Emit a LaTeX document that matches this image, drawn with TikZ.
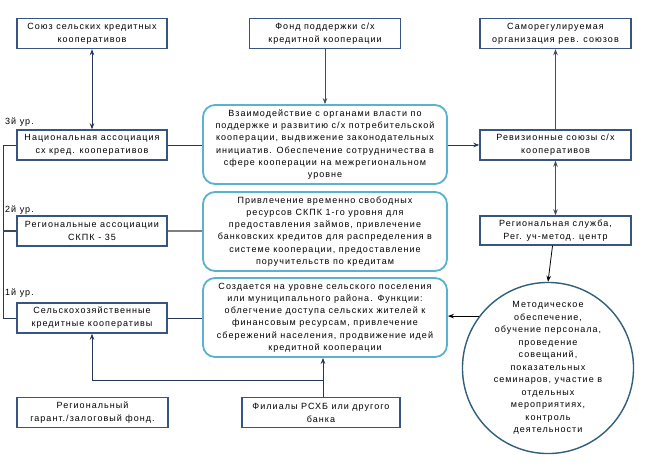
\documentclass[tikz,border=0pt]{standalone}
\usepackage{fontspec}
\setmainfont{Liberation Sans}[LetterSpace=11.5]
\usetikzlibrary{arrows.meta}
\definecolor{boxline}{RGB}{55,85,130}
\definecolor{rline}{RGB}{90,178,206}
\definecolor{cline}{RGB}{47,95,122}
\definecolor{conn}{RGB}{40,55,85}
\begin{document}
\begin{tikzpicture}[x=1pt,y=-1pt,
  sbox/.style={draw=boxline,line width=1.4pt,minimum width=150pt,minimum height=30pt,inner sep=1pt,align=center,font=\fontsize{9}{13}\selectfont},
  rbox/.style={draw=rline,line width=1.8pt,rounded corners=12pt,minimum width=244pt,minimum height=79pt,inner sep=1pt,align=center,font=\fontsize{9}{12.2}\selectfont},
  conline/.style={draw=conn,line width=0.8pt},
  tip/.style={-{Stealth[length=6pt,width=4.5pt]}},
  dtip/.style={{Stealth[length=6pt,width=4.5pt]}-{Stealth[length=6pt,width=4.5pt]}},
  lvl/.style={anchor=west,inner sep=0pt,font=\fontsize{9}{11}\selectfont}]
\fill[white] (0,0) rectangle (647,471);
\useasboundingbox (0,0) rectangle (647,471);

\node[sbox] (sojuz) at (92,33.5) {Союз сельских кредитных\\кооперативов};
\node[sbox,minimum width=151pt] (fond) at (325,33.5) {Фонд поддержки с/х\\кредитной кооперации};
\node[sbox,minimum width=151pt] (samoreg) at (555.5,33.5) {Саморегулируемая\\организация рев. союзов};

\node[sbox] (nac) at (92,145) {Национальная ассоциация\\сх кред. кооперативов};
\node[sbox] (reg) at (92,231) {Региональные ассоциации\\СКПК - 35};
\node[sbox] (selh) at (92,318) {Сельскохозяйственные\\кредитные кооперативы};

\node[lvl] (l3) at (5,122) {3й ур.};
\node[lvl] (l2) at (5,210) {2й ур.};
\node[lvl] (l1) at (5,293) {1й ур.};

\node[rbox] (b1) at (325,144.5) {Взаимодействие с органами власти по\\поддержке и развитию с/х потребительской\\кооперации, выдвижение законодательных\\инициатив. Обеспечение сотрудничества в\\сфере кооперации на межрегиональном\\уровне};
\node[rbox] (b2) at (325,231.5) {Привлечение временно свободных\\ресурсов СКПК 1-го уровня для\\предоставления займов, привлечение\\банковских кредитов для распределения в\\системе кооперации, предоставление\\поручительств по кредитам};
\node[rbox] (b3) at (325,317.5) {Создается на уровне сельского поселения\\или муниципального района. Функции:\\облегчение доступа сельских жителей к\\финансовым ресурсам, привлечение\\сбережений населения, продвижение идей\\кредитной кооперации};

\node[sbox,minimum width=151pt] (rev) at (555.5,145) {Ревизионные союзы с/х\\кооперативов};
\node[sbox,minimum width=151pt,minimum height=29pt] (rsl) at (555.5,230.5) {Региональная служба,\\Рег. уч-метод. центр};

\node[draw=cline,line width=1.4pt,circle,minimum size=160pt,inner sep=0pt,align=center,font=\fontsize{9}{12.5}\selectfont] (circ) at (548,368) {Методическое\\обеспечение,\\обучение персонала,\\проведение\\совещаний,\\показательных\\семинаров, участие в\\отдельных\\мероприятиях,\\контроль\\деятельности};

\node[sbox,minimum width=151pt] (garant) at (92.5,412.5) {Региональный\\гарант./залоговый фонд.};
\node[sbox,minimum width=158pt] (filial) at (321,412.5) {Филиалы РСХБ или другого\\банка};

% connectors
\draw[conline,dtip] (sojuz.south) -- (nac.north);
\draw[conline,tip,draw=conn!70!gray] (fond.south) -- (b1.north);
\draw[conline,tip] (b1.east |- rev.west) -- (rev.west);
\draw[conline,tip,draw=conn!70!gray] (rev.north) -- (samoreg.south);
\draw[conline,dtip,draw=conn!70!gray] (rev.south) -- (rsl.north);
\draw[conline,tip,draw=black] ([xshift=-3pt]rsl.south) -- (circ.north);
\draw[conline,tip,draw=black] (circ.143) -- (b3.east |- circ.143);

\draw[conline] (nac.east) -- (b1.west |- nac.east);
\draw[conline,draw=gray,line width=1.4pt] (reg.east) -- (b2.west |- reg.east);
\draw[conline] (selh.east) -- (b3.west |- selh.east);

\coordinate (bus) at (3,145);
\draw[conline] (nac.west) -- (bus) |- (selh.west);
\draw[conline,draw=conn!80!gray,line width=1.2pt] (bus |- reg.west) -- (reg.west);

\coordinate (j) at (323,380);
\draw[conline,tip] (filial.north -| j) -- (j |- b3.south);
\draw[conline,tip] (j) -| (selh.south);
\end{tikzpicture}
\end{document}
